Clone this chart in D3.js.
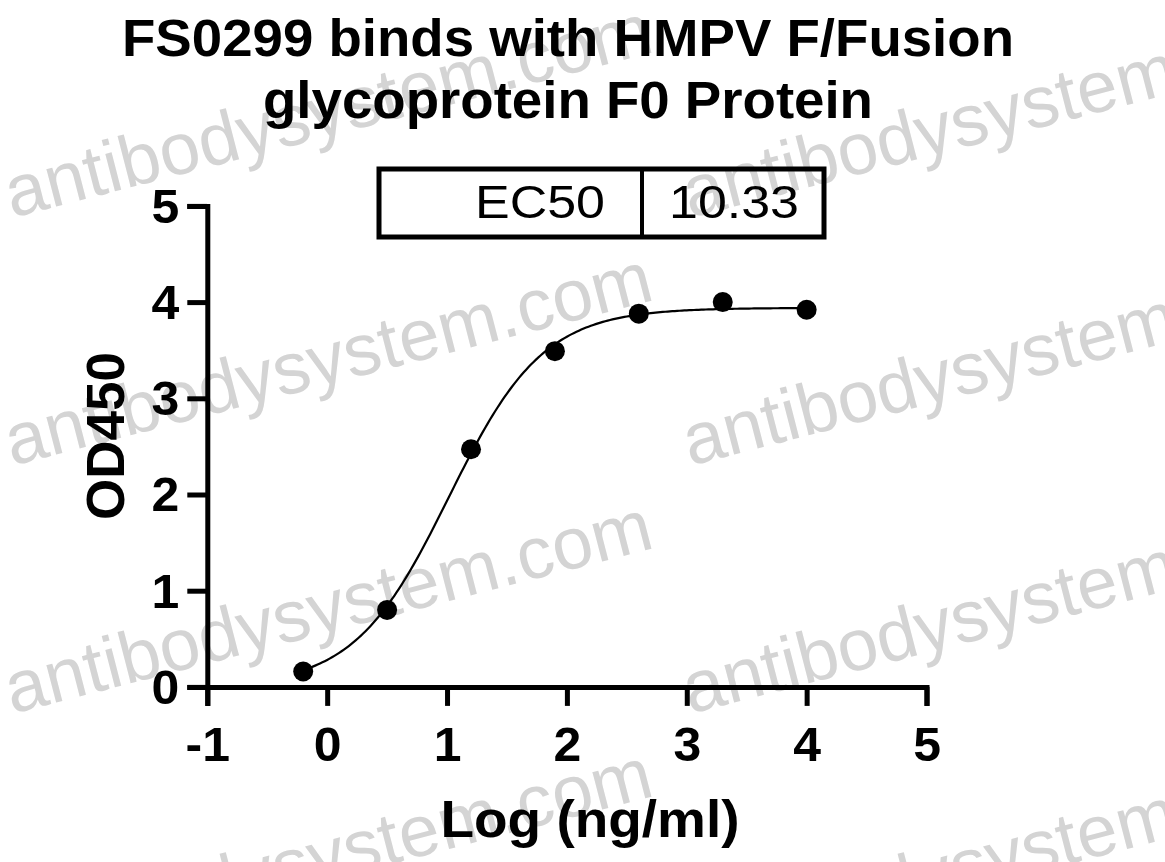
<!DOCTYPE html>
<html>
<head>
<meta charset="utf-8">
<script src="https://cdn.jsdelivr.net/npm/d3@7"></script>
<style>
  body { margin: 0; background: #fff; }
  svg { display: block; }
</style>
</head>
<body>
<div id="chart"></div>
<script>
// data
const logConc = [-0.2, 0.5, 1.2, 1.9, 2.6, 3.3, 4.0];
const od450 = [0.16, 0.80, 2.47, 3.49, 3.88, 4.00, 3.92];
const xTicks = [-1, 0, 1, 2, 3, 4, 5];
const yTicks = [0, 1, 2, 3, 4, 5];
// 4PL fit: bottom, top, logEC50, hill slope
const fitParams = [0.0, 3.94, Math.log10(10.33), 1.1];
const ec50Cells = ["EC50", "10.33"];
const titleLines = ["FS0299 binds with HMPV F/Fusion", "glycoprotein F0 Protein"];
const watermarkText = "antibodysystem.com";

const width = 1165, height = 862;
const font = "'Liberation Sans', Arial, sans-serif";

const svg = d3.select('#chart').append('svg')
  .attr('width', width)
  .attr('height', height)
  .style('font-family', font);

// watermark, behind everything
const wm = svg.append('g').attr('class', 'watermark');
[12, 690].forEach(function(wx) {
  [218, 466, 714, 962].forEach(function(wy) {
    wm.append('text')
      .attr('transform', 'translate(' + wx + ',' + wy + ') rotate(-14.5)')
      .attr('font-size', 73)
      .attr('fill', '#d4d4d4')
      .text(watermarkText);
  });
});

var x = d3.scaleLinear()
  .domain([-1, 5])
  .range([207.3, 926.5]);
var y = d3.scaleLinear()
  .domain([0, 5])
  .range([686.9, 205.9]);

// x axis
var gx = svg.append('g')
  .attr('transform', 'translate(0,' + y(0) + ')')
  .call(d3.axisBottom(x).tickValues(xTicks).tickSizeOuter(0).tickSize(19).tickPadding(21)
    .tickFormat(d3.format('d')));
gx.select('.domain').attr('stroke', '#000').attr('stroke-width', 5);
gx.selectAll('.tick line').attr('stroke', '#000').attr('stroke-width', 5);
gx.selectAll('.tick text')
  .attr('font-family', font)
  .attr('font-size', 48)
  .attr('font-weight', 'bold')
  .attr('fill', '#000')
  .attr('transform', 'scale(1.04,1)')
  .text(function(d) { return d < 0 ? '-' + Math.abs(d) : d; });

// y axis
var gy = svg.append('g')
  .attr('transform', 'translate(' + x(-1) + ',0)')
  .call(d3.axisLeft(y).tickValues(yTicks).tickSizeOuter(0).tickSize(20).tickFormat(d3.format('d')));
gy.select('.domain').attr('stroke', '#000').attr('stroke-width', 5);
gy.selectAll('.tick line').attr('stroke', '#000').attr('stroke-width', 5);
gy.selectAll('.tick text')
  .attr('font-family', font)
  .attr('font-size', 48)
  .attr('font-weight', 'bold')
  .attr('fill', '#000')
  .attr('x', 0)
  .attr('transform', 'translate(-28,1) scale(1.04,1)');

// fitted curve
var curveX = d3.range(logConc[0], logConc[logConc.length - 1] + 0.001, 0.02);
function fourPL(v) {
  return fitParams[0] + (fitParams[1] - fitParams[0]) /
    (1 + Math.pow(10, (fitParams[2] - v) * fitParams[3]));
}
var line = d3.line()
  .x(function(d) { return x(d); })
  .y(function(d) { return y(fourPL(d)); });
svg.append('path')
  .datum(curveX)
  .attr('fill', 'none')
  .attr('stroke', '#000')
  .attr('stroke-width', 2.2)
  .attr('d', line);

// points
svg.append('g').selectAll('circle')
  .data(logConc)
  .join('circle')
    .attr('cx', function(d) { return x(d); })
    .attr('cy', function(d, i) { return y(od450[i]); })
    .attr('r', 10)
    .attr('fill', '#000');

// title
svg.append('g').selectAll('text')
  .data(titleLines)
  .join('text')
    .attr('x', 568)
    .attr('y', function(d, i) { return 56 + i * 62; })
    .attr('text-anchor', 'middle')
    .attr('font-size', 51)
    .attr('font-weight', 'bold')
    .attr('textLength', function(d, i) { return i === 0 ? 892 : 610; })
    .attr('lengthAdjust', 'spacingAndGlyphs')
    .text(function(d) { return d; });

// axis titles
svg.append('text')
  .attr('x', 590)
  .attr('y', 837)
  .attr('text-anchor', 'middle')
  .attr('font-size', 52)
  .attr('font-weight', 'bold')
  .attr('textLength', 299)
  .attr('lengthAdjust', 'spacingAndGlyphs')
  .text('Log (ng/ml)');

svg.append('text')
  .attr('transform', 'translate(124,436) rotate(-90)')
  .attr('text-anchor', 'middle')
  .attr('font-size', 54)
  .attr('font-weight', 'bold')
  .attr('textLength', 168)
  .attr('lengthAdjust', 'spacingAndGlyphs')
  .text('OD450');

// EC50 table
var box = svg.append('g');
box.append('rect')
  .attr('x', 379).attr('y', 169)
  .attr('width', 445).attr('height', 68)
  .attr('fill', 'none')
  .attr('stroke', '#000')
  .attr('stroke-width', 5);
box.append('line')
  .attr('x1', 642).attr('x2', 642)
  .attr('y1', 169).attr('y2', 237)
  .attr('stroke', '#000')
  .attr('stroke-width', 4);
box.append('text')
  .attr('x', 605).attr('y', 218)
  .attr('text-anchor', 'end')
  .attr('font-size', 46)
  .attr('textLength', 130)
  .attr('lengthAdjust', 'spacingAndGlyphs')
  .text(ec50Cells[0]);
box.append('text')
  .attr('x', 669).attr('y', 218)
  .attr('font-size', 46)
  .attr('textLength', 130)
  .attr('lengthAdjust', 'spacingAndGlyphs')
  .text(ec50Cells[1]);
</script>
</body>
</html>
